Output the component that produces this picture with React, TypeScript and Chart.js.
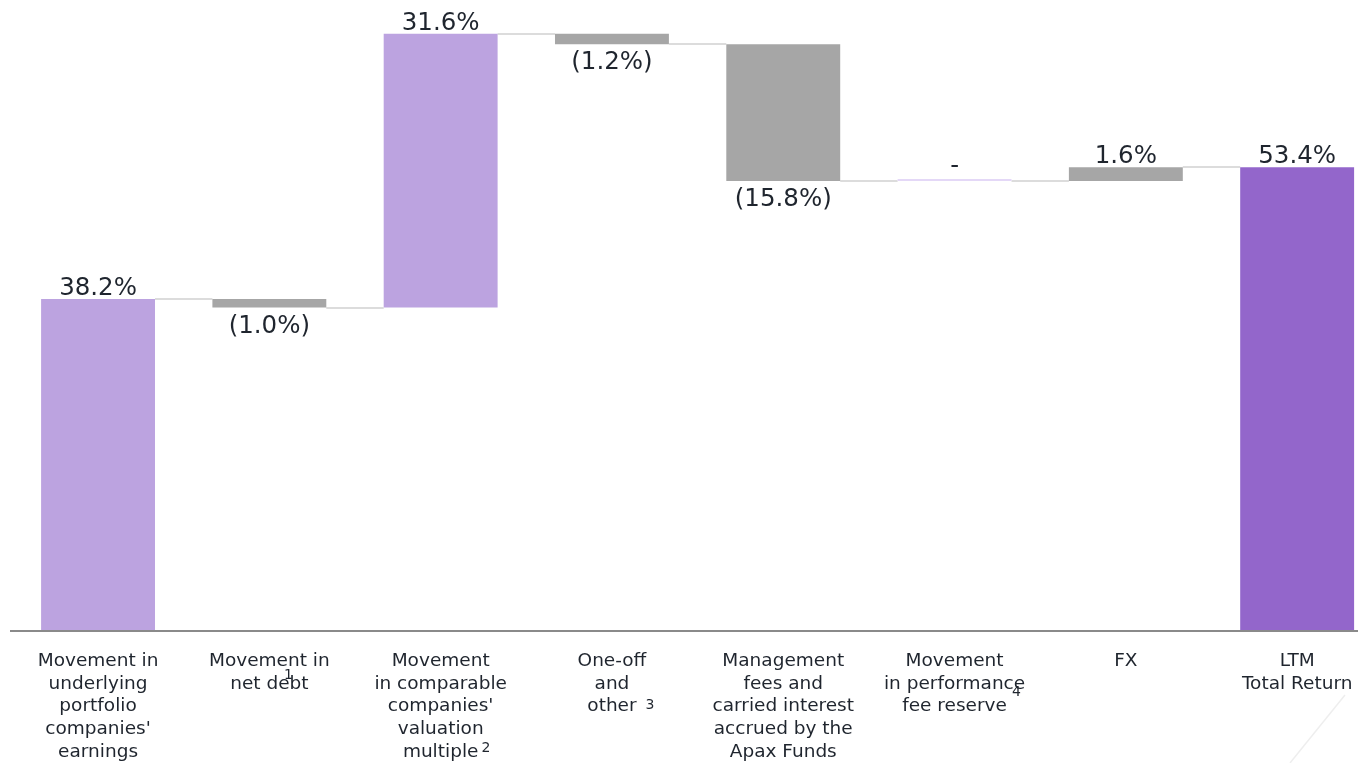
import { useEffect, useRef } from "react";
import { Chart, registerables } from "chart.js";

Chart.register(...registerables);

// ---------- DATA ----------
const categoryLines: string[][] = [
  ["Movement in", "underlying", "portfolio", "companies'", "earnings"],
  ["Movement in", "net debt"],
  ["Movement", "in comparable", "companies'", "valuation", "multiple"],
  ["One-off", "and", "other"],
  ["Management", "fees and", "carried interest", "accrued by the", "Apax Funds"],
  ["Movement", "in performance", "fee reserve"],
  ["FX"],
  ["LTM", "Total Return"],
];
const footnotes: string[] = ["", "1", "2", "3", "", "4", "", ""];
const changes: number[] = [38.2, -1.0, 31.6, -1.2, -15.8, 0, 1.6];
const totalReturn: number = 53.4;

// ---------- STYLE ----------
const LIGHT_PURPLE = "#BCA3E0";
const DARK_PURPLE = "#9366CB";
const GRAY = "#A6A6A6";
const ZERO_COLOR = "#E4D8F7";
const BAR_COLORS = [LIGHT_PURPLE, GRAY, LIGHT_PURPLE, GRAY, GRAY, ZERO_COLOR, GRAY, DARK_PURPLE];
const TEXT_COLOR = "#1f252e";
const FONT = "'DejaVu Sans', Verdana, sans-serif";
type FnStyle = { line: number; mode: "center" | "after"; dx: number; dy: number } | null;
const FOOTNOTE_STYLE: FnStyle[] = [
  null,
  { line: 1, mode: "center", dx: 19, dy: -8 },
  { line: 4, mode: "after", dx: 3, dy: -4 },
  { line: 2, mode: "after", dx: 9, dy: -1 },
  null,
  { line: 2, mode: "after", dx: 5, dy: -14 },
  null,
  null,
];

function formatValue(v: number): string {
  if (v === 0) return "-";
  if (v < 0) return `(${Math.abs(v).toFixed(1)}%)`;
  return `${v.toFixed(1)}%`;
}

export default function App() {
  const canvasRef = useRef<HTMLCanvasElement | null>(null);

  useEffect(() => {
    if (!canvasRef.current) return;

    const ranges: [number, number][] = [];
    let cum = 0;
    changes.forEach((c) => {
      ranges.push([cum, +(cum + c).toFixed(4)]);
      cum += c;
    });
    ranges.push([0, totalReturn]);
    const values = [...changes, totalReturn];
    const labels = categoryLines.map((l) => l.join(" "));

    const waterfallPlugin = {
      id: "waterfallDecor",
      beforeDatasetsDraw(chart: any) {
        const ctx = chart.ctx;
        const meta = chart.getDatasetMeta(0);
        const ys = chart.scales.y;
        ctx.save();
        ctx.strokeStyle = "#DCDCDC";
        ctx.lineWidth = 2;
        for (let i = 0; i < ranges.length - 1; i++) {
          const a = meta.data[i];
          const b = meta.data[i + 1];
          const y = Math.round(ys.getPixelForValue(ranges[i][1]));
          ctx.beginPath();
          ctx.moveTo(a.x + a.width / 2, y);
          ctx.lineTo(b.x - b.width / 2, y);
          ctx.stroke();
        }
        ctx.restore();
      },
      afterDatasetsDraw(chart: any) {
        const ctx = chart.ctx;
        const meta = chart.getDatasetMeta(0);
        const xs = chart.scales.x;
        const ys = chart.scales.y;
        const y0 = ys.getPixelForValue(0);
        ctx.save();
        // baseline
        ctx.strokeStyle = "#8A8A8A";
        ctx.lineWidth = 2;
        ctx.beginPath();
        ctx.moveTo(10, y0 + 1);
        ctx.lineTo(chart.width, y0 + 1);
        ctx.stroke();

        // value labels
        ctx.fillStyle = TEXT_COLOR;
        ctx.font = `24.5px ${FONT}`;
        ctx.textAlign = "center";
        ctx.textBaseline = "alphabetic";
        meta.data.forEach((el: any, i: number) => {
          const top = Math.min(el.y, el.base);
          const bottom = Math.max(el.y, el.base);
          const v = values[i];
          const txt = formatValue(v);
          if (v < 0) ctx.fillText(txt, el.x, bottom + 25);
          else ctx.fillText(txt, el.x, top - (v === 0 ? 6 : 4));
        });

        // category labels
        const lineH = 22.75;
        const firstY = y0 + 31;
        ctx.textBaseline = "middle";
        categoryLines.forEach((lines, i) => {
          const cx = xs.getPixelForValue(i);
          ctx.font = `18.5px ${FONT}`;
          ctx.textAlign = "center";
          lines.forEach((ln, j) => {
            ctx.fillText(ln, cx, firstY + j * lineH);
          });
          const fs = FOOTNOTE_STYLE[i];
          if (fs && footnotes[i]) {
            const ln = lines[fs.line];
            const w = ctx.measureText(ln).width;
            const ly = firstY + fs.line * lineH + fs.dy;
            ctx.font = `14px ${FONT}`;
            if (fs.mode === "center") {
              ctx.textAlign = "center";
              ctx.fillText(footnotes[i], cx + fs.dx, ly);
            } else {
              ctx.textAlign = "left";
              ctx.fillText(footnotes[i], cx + w / 2 + fs.dx, ly);
            }
          }
        });

        // faint decorative corner line
        ctx.strokeStyle = "#EEEEEE";
        ctx.lineWidth = 1.5;
        ctx.beginPath();
        ctx.moveTo(1345, 695);
        ctx.lineTo(1290, 763);
        ctx.stroke();
        ctx.restore();
      },
    };

    const chart = new Chart(canvasRef.current, {
      type: "bar",
      data: {
        labels,
        datasets: [
          {
            data: ranges as any,
            backgroundColor: BAR_COLORS,
            borderWidth: 0,
            barPercentage: 0.665,
            categoryPercentage: 1,
            minBarLength: 2,
          },
        ],
      },
      options: {
        animation: false,
        responsive: true,
        maintainAspectRatio: false,
        layout: { padding: { left: 12.4, right: 17.2, top: 6, bottom: 133 } },
        plugins: {
          legend: { display: false },
          tooltip: { enabled: false },
          title: { display: false },
        },
        scales: {
          x: { type: "category", display: false },
          y: { display: false, min: 0, max: 72 },
        },
      },
      plugins: [waterfallPlugin],
    });

    return () => chart.destroy();
  }, []);

  return (
    <div
      style={{
        position: "fixed",
        left: 0,
        top: 0,
        width: "1358px",
        height: "763px",
        overflow: "hidden",
        background: "#ffffff",
      }}
    >
      <div style={{ position: "relative", width: "1400px", height: "763px" }}>
        <canvas ref={canvasRef} />
      </div>
    </div>
  );
}
